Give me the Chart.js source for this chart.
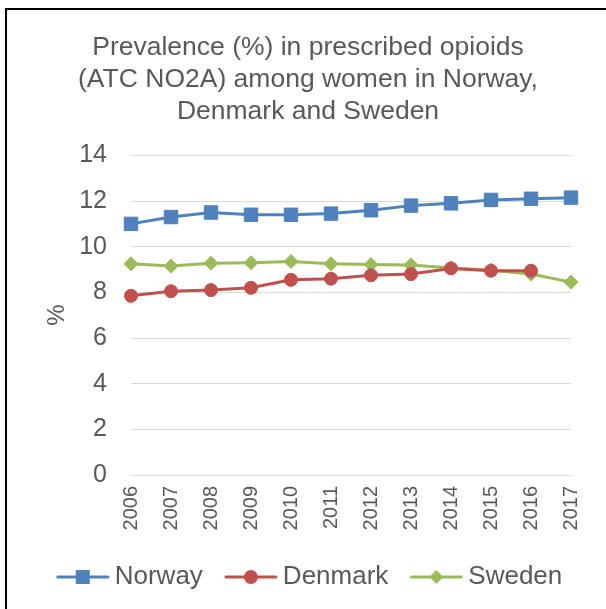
<!DOCTYPE html>
<html>
<head>
<meta charset="utf-8">
<script src="https://cdn.jsdelivr.net/npm/chart.js@4"></script>
<style>
html,body{margin:0;padding:0;background:#fff;}
#wrap{position:relative;width:606px;height:609px;}
</style>
</head>
<body>
<div id="wrap"><canvas id="c" width="606" height="609"></canvas></div>
<script>
const years = ['2006','2007','2008','2009','2010','2011','2012','2013','2014','2015','2016','2017'];
const norway = [11.0, 11.3, 11.5, 11.4, 11.4, 11.45, 11.6, 11.8, 11.9, 12.05, 12.1, 12.15];
const denmark = [7.85, 8.05, 8.1, 8.2, 8.55, 8.6, 8.75, 8.8, 9.05, 8.95, 8.95, null];
const sweden = [9.25, 9.15, 9.28, 9.3, 9.35, 9.25, 9.22, 9.2, 9.07, 8.97, 8.8, 8.45];
const yTicks = [0, 2, 4, 6, 8, 10, 12, 14];
const titleLines = ['Prevalence (%) in prescribed opioids', '(ATC NO2A) among women in Norway,', 'Denmark and Sweden'];

const FONT = '"Liberation Sans", Arial, sans-serif';
const TEXT = '#595959';
const colors = {Norway: '#4F81BD', Denmark: '#C0504D', Sweden: '#9BBB59'};

function legendIcon(color, shape) {
  const cv = document.createElement('canvas');
  cv.width = 54; cv.height = 16;
  const g = cv.getContext('2d');
  g.strokeStyle = color; g.lineWidth = 3; g.lineCap = 'round';
  g.beginPath(); g.moveTo(2, 8); g.lineTo(52, 8); g.stroke();
  g.fillStyle = color;
  g.beginPath();
  if (shape === 'rect') { g.rect(20, 1, 14, 14); }
  else if (shape === 'circle') { g.arc(27, 8, 7, 0, Math.PI * 2); }
  else { g.moveTo(27, 1); g.lineTo(34, 8); g.lineTo(27, 15); g.lineTo(20, 8); g.closePath(); }
  g.fill();
  return cv;
}

const framePlugin = {
  id: 'frame',
  afterLayout(chart) {
    if (chart.legend) { chart.legend.left += 5; chart.legend.right += 5; }
  },
  afterDraw(chart) {
    const ctx = chart.ctx;
    ctx.save();
    ctx.strokeStyle = '#000'; ctx.lineWidth = 2;
    ctx.beginPath();
    ctx.moveTo(6, 609); ctx.lineTo(6, 9); ctx.lineTo(606, 9);
    ctx.stroke();
    ctx.restore();
  }
};

function ds(label, data, shape, radius) {
  return {
    label, data,
    borderColor: colors[label], backgroundColor: colors[label],
    borderWidth: 3, pointStyle: shape, pointRadius: radius, pointHoverRadius: radius,
    pointBorderWidth: 1, pointBackgroundColor: colors[label], pointBorderColor: colors[label],
    tension: 0, spanGaps: false,
    legendIcon: legendIcon(colors[label], shape)
  };
}

const PAD_LEFT = 23;

new Chart(document.getElementById('c'), {
  type: 'line',
  data: {
    labels: years,
    datasets: [
      ds('Norway', norway, 'rect', 9.5),
      ds('Denmark', denmark, 'circle', 6.5),
      ds('Sweden', sweden, 'rectRot', 7)
    ]
  },
  options: {
    responsive: false,
    animation: false,
    devicePixelRatio: 1,
    layout: {padding: {left: PAD_LEFT, right: 13, top: 0, bottom: 9}},
    plugins: {
      title: {
        display: true, text: titleLines, color: TEXT,
        font: {family: FONT, size: 26.5, weight: 'normal', lineHeight: 1.2},
        padding: {top: 32, bottom: 28}
      },
      legend: {
        position: 'bottom',
        labels: {
          color: TEXT, font: {family: FONT, size: 26},
          usePointStyle: true, pointStyleWidth: 38, boxHeight: 16, padding: 29,
          generateLabels(chart) {
            return chart.data.datasets.map((d, i) => ({
              text: d.label, fillStyle: d.borderColor, strokeStyle: d.borderColor,
              pointStyle: d.legendIcon, fontColor: TEXT, lineWidth: 0, datasetIndex: i, hidden: false
            }));
          }
        }
      },
      tooltip: {enabled: false}
    },
    scales: {
      x: {
        grid: {display: false, drawTicks: false},
        border: {display: false},
        ticks: {color: TEXT, font: {family: FONT, size: 20}, minRotation: 90, maxRotation: 90, padding: 11, autoSkip: false},
        afterFit(axis) { axis.height = 60; }
      },
      y: {
        min: 0, max: 14,
        afterBuildTicks(axis) { axis.ticks = yTicks.map(v => ({value: v})); },
        grid: {color: '#D9D9D9', lineWidth: 1, drawTicks: false},
        border: {display: false},
        ticks: {color: TEXT, font: {family: FONT, size: 25}, padding: 24},
        title: {display: true, text: '%', color: TEXT, font: {family: FONT, size: 24}, padding: {top: 43 - PAD_LEFT, bottom: 0}},
        afterFit(axis) { axis.width = 131 - PAD_LEFT; }
      }
    }
  },
  plugins: [framePlugin]
});
</script>
</body>
</html>
